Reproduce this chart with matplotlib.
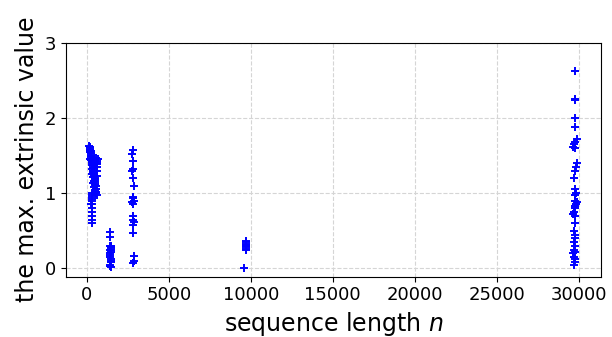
import matplotlib
matplotlib.use("Agg")
import matplotlib.pyplot as plt

# cluster 1: short sequences
n1 = [150, 180, 200, 220, 250, 260, 280, 300, 300, 300, 300, 300, 320, 340, 350, 360, 380, 400, 400, 420,
      440, 450, 460, 480, 500, 500, 520, 540, 550, 560, 580, 600, 620, 640, 200, 250, 300, 350, 400, 450,
      180, 230, 280, 330, 380, 430, 480, 530, 580, 630, 210, 260, 310, 360, 410, 460, 510, 560, 610, 290,
      300, 310, 320, 330, 340, 280, 600, 650, 700]
v1 = [1.63, 1.60, 1.58, 1.55, 1.52, 1.50, 1.48, 0.60, 0.65, 0.70, 0.75, 0.80, 1.45, 1.42, 1.40, 1.38, 1.36, 1.34, 1.30, 1.28,
      1.26, 1.24, 1.22, 1.20, 1.18, 1.15, 1.12, 1.10, 1.05, 1.02, 1.00, 0.98, 1.40, 1.35, 1.46, 1.44, 1.32, 1.25, 1.14, 1.08,
      1.57, 1.53, 1.49, 1.41, 1.33, 1.29, 1.19, 1.11, 1.06, 1.30, 1.61, 1.56, 1.37, 1.27, 1.21, 1.16, 1.03, 1.47, 1.23, 0.85,
      0.95, 0.90, 1.00, 0.97, 0.92, 0.86, 1.43, 1.39, 1.45]

# cluster 2
n2 = [1400, 1420, 1440, 1460, 1480, 1500, 1400, 1420, 1440, 1460, 1480, 1500, 1410, 1430, 1450, 1470, 1490, 1420]
v2 = [0.48, 0.42, 0.30, 0.28, 0.25, 0.22, 0.20, 0.18, 0.15, 0.12, 0.10, 0.08, 0.05, 0.03, 0.02, 0.30, 0.27, 0.24]

# cluster 3
n3 = [2800, 2750, 2820, 2850, 2780, 2830, 2860, 2800, 2840, 2880, 2760, 2820, 2850, 2800, 2870, 2830, 2850, 2870, 2860, 2850]
v3 = [1.57, 1.52, 1.43, 1.32, 1.30, 1.20, 1.10, 0.95, 0.93, 0.90, 0.88, 0.85, 0.70, 0.65, 0.62, 0.58, 0.47, 0.17, 0.10, 0.07]

# cluster 4
n4 = [9700, 9700, 9700, 9700, 9700, 9700, 9700, 9700, 9600]
v4 = [0.37, 0.35, 0.33, 0.31, 0.30, 0.28, 0.26, 0.25, 0.00]

# cluster 5: longest sequences
n5 = [29800, 29750, 29800, 29750, 29800, 29900, 29750, 29700, 29650, 29800, 29900, 29850, 29800, 29700, 29750,
      29850, 29750, 29800, 29900, 29850, 29750, 29800, 29700, 29650, 29750, 29800, 29700, 29750, 29800, 29700,
      29750, 29700, 29800, 29650, 29700, 29750, 29800, 29700]
v5 = [2.62, 2.25, 2.24, 2.00, 1.88, 1.72, 1.68, 1.65, 1.62, 1.60, 1.40, 1.35, 1.30, 1.20, 1.05,
      1.00, 0.98, 0.90, 0.88, 0.85, 0.83, 0.80, 0.75, 0.72, 0.70, 0.60, 0.50, 0.45, 0.40, 0.35,
      0.30, 0.25, 0.22, 0.20, 0.15, 0.12, 0.08, 0.05]

fig, ax = plt.subplots(figsize=(6.12, 3.37), dpi=100)
for n, v in [(n1, v1), (n2, v2), (n3, v3), (n4, v4), (n5, v5)]:
    ax.plot(n, v, '+', color='blue', markersize=5.5, markeredgewidth=1.4)

ax.set_xlim(-1260, 31360)
ax.set_ylim(-0.11, 3.0)
ax.set_xticks([0, 5000, 10000, 15000, 20000, 25000, 30000])
ax.set_yticks([0, 1, 2, 3])
ax.grid(True, linestyle='--', color='#d5d5d5', linewidth=0.8)
ax.set_axisbelow(True)
ax.tick_params(labelsize=13)
ax.set_xlabel('sequence length $n$', fontsize=17)
ax.set_ylabel('the max. extrinsic value', fontsize=17)
fig.subplots_adjust(left=0.108, right=0.982, top=0.873, bottom=0.179)
fig.savefig('out.png', dpi=100)
